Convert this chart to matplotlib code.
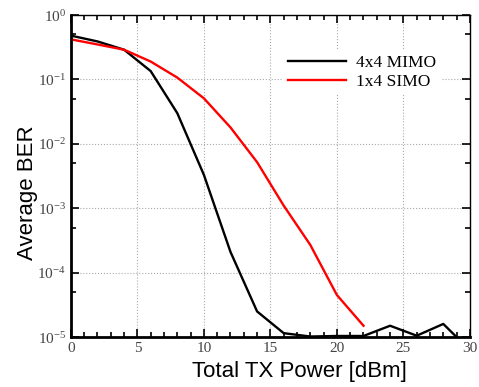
import numpy as np
import matplotlib
matplotlib.use('Agg')
import matplotlib.pyplot as plt
from matplotlib.ticker import LogLocator, MultipleLocator

# data
x_mimo = [0, 2, 4, 6, 8, 10, 12, 14, 16, 18, 20, 22, 24, 26, 28, 29]
ber_mimo = [0.48, 0.39, 0.29, 0.135, 0.030, 0.0033, 2.1e-4, 2.5e-5, 1.15e-5,
            1.02e-5, 1.04e-5, 1.04e-5, 1.5e-5, 1.05e-5, 1.6e-5, 1.0e-5]
x_simo = [0, 2, 4, 6, 8, 10, 12, 14, 16, 18, 20, 22]
ber_simo = [0.42, 0.35, 0.29, 0.19, 0.107, 0.051, 0.018, 0.0052, 1.1e-3,
            2.7e-4, 4.5e-5, 1.5e-5]
labels = ['4x4 MIMO', '1x4 SIMO']

fig = plt.figure(figsize=(4.79, 3.87), dpi=100)
ax = fig.add_axes([0.148, 0.129, 0.833, 0.832])

ax.semilogy(x_mimo, ber_mimo, color='black', lw=1.7, label=labels[0])
ax.semilogy(x_simo, ber_simo, color='red', lw=1.7, label=labels[1])

ax.set_xlim(0, 30)
ax.set_ylim(1e-5, 1)
ax.xaxis.set_major_locator(MultipleLocator(5))
ax.xaxis.set_minor_locator(MultipleLocator(1))
ax.yaxis.set_major_locator(LogLocator(base=10, numticks=10))
ax.yaxis.set_minor_locator(LogLocator(base=10, subs=[5], numticks=10))

ax.grid(True, which='major', color='#aaaaaa', ls=':', lw=0.8)
ax.tick_params(which='both', direction='in', top=True, right=True)
ax.tick_params(which='major', length=6, width=1.2)
ax.tick_params(which='minor', length=3.5, width=1.2)

serif = ['Liberation Serif', 'DejaVu Serif']
for lab in ax.get_xticklabels() + ax.get_yticklabels():
    lab.set_family(serif)
    lab.set_fontsize(11)
    lab.set_color('#444444')

for side in ['left', 'bottom']:
    ax.spines[side].set_linewidth(2)
for side in ['top', 'right']:
    ax.spines[side].set_linewidth(1)

# axis titles sit off-centre in the original
fig.text(299 / 479, 1 - 372 / 387, 'Total TX Power [dBm]', family=['Liberation Sans'],
         fontsize=16, ha='center', va='center')
fig.text(27 / 479, 1 - 193 / 387, 'Average BER', family=['Liberation Sans'],
         fontsize=16, ha='center', va='center', rotation=90)

leg = ax.legend(loc='upper right', bbox_to_anchor=(0.95, 0.92), frameon=True,
                prop={'family': serif, 'size': 12.5}, handlelength=3.3,
                labelspacing=0.15, borderpad=0.3, handletextpad=0.6)
leg.get_frame().set_edgecolor('none')
leg.get_frame().set_alpha(1)

fig.savefig('out.png', dpi=100)
